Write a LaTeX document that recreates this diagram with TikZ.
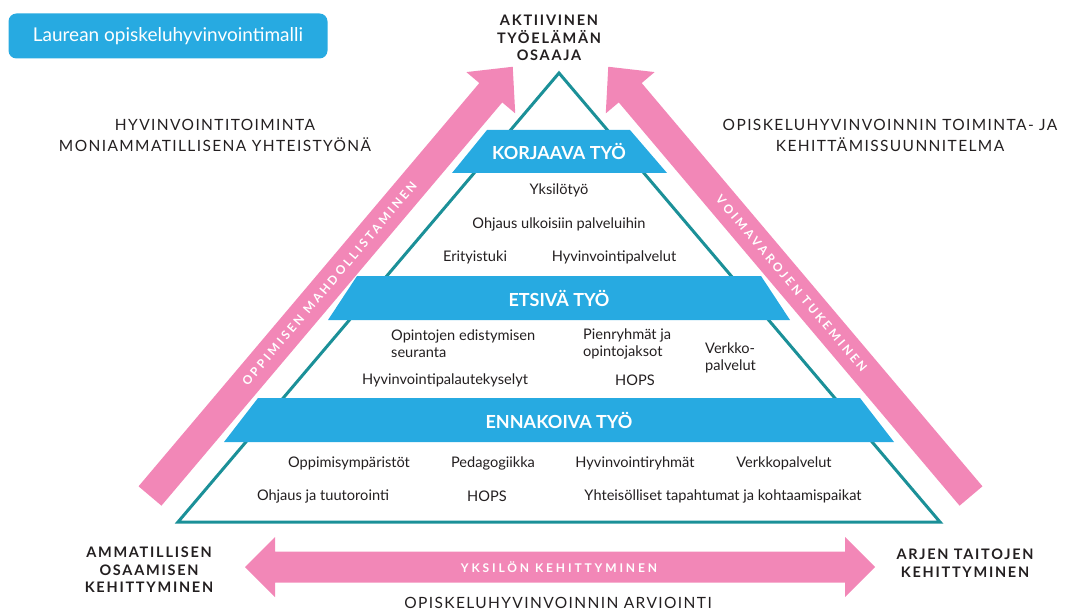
\documentclass[tikz,border=0pt]{standalone}
\usepackage{fontspec}
\setmainfont{Lato}
\newfontfamily\spacedfont[LetterSpace=24]{Lato}
\newfontfamily\capsfont[LetterSpace=9]{Lato}
\newfontfamily\boldcapsfont[LetterSpace=12]{Lato}
\definecolor{lcyan}{HTML}{27AAE1}
\definecolor{lpink}{HTML}{F287B7}
\definecolor{lteal}{HTML}{1B9098}
\definecolor{ink}{HTML}{231F20}
\begin{document}
\begin{tikzpicture}
    [x=1pt,y=-1pt,
    item/.style={inner sep=0pt, text=ink, font=\fontsize{14.6}{17}\selectfont},
    lefttext/.style={item, align=left, anchor=west},
    heading/.style={inner sep=0pt, text=ink, align=center, font=\capsfont\fontsize{15.5}{21}\selectfont},
    corner/.style={inner sep=0pt, text=ink, align=center, font=\boldcapsfont\bfseries\fontsize{14.5}{17.5}\selectfont},
    band/.style={fill=lcyan},
    bandtext/.style={inner sep=0pt, text=white, font=\bfseries\fontsize{18}{20}\selectfont},
    arrowtext/.style={inner sep=0pt, text=white, font=\spacedfont\bfseries\fontsize{12}{14}\selectfont}]
  \useasboundingbox (0,0) rectangle (1067,612);
  \node[fill=lcyan, rounded corners=8pt, minimum width=319pt, minimum height=45pt,
    text=white, font=\fontsize{19}{22}\selectfont] (title) at (168,36) {Laurean opiskeluhyvinvointimalli};
  % nuolet
  \begin{scope}[shift={(150,496)},rotate=49.8]
    \fill[lpink] (0,-15) -- (528,-15) -- (528,-32) -- (562,0) -- (528,32) -- (528,15) -- (0,15) -- cycle;
    \node[arrowtext,rotate=49.8] (enabling) at (278,0) {OPPIMISEN MAHDOLLISTAMINEN};
  \end{scope}
  \begin{scope}[shift={(971,496)},rotate=130.2]
    \fill[lpink] (0,-15) -- (528,-15) -- (528,-32) -- (562,0) -- (528,32) -- (528,15) -- (0,15) -- cycle;
    \node[arrowtext,rotate=-49.8] (support) at (278,0) {VOIMAVAROJEN TUKEMINEN};
  \end{scope}
  \fill[lpink] (245,567) -- (275,537) -- (275,551.5) -- (845,551.5) -- (845,537) -- (875,567)
    -- (845,597) -- (845,582.5) -- (275,582.5) -- (275,597) -- cycle;
  \node[arrowtext] (growth) at (559,567) {YKSILÖN KEHITTYMINEN};
  % pyramidi
  \draw[lteal, line width=3pt, line join=miter] (559,73) -- (940,522) -- (178,522) -- cycle;
  \fill[band] (487,130) -- (630,130) -- (667,173) -- (452,173) -- cycle;
  \fill[band] (357,276) -- (761,276) -- (790,320) -- (328,320) -- cycle;
  \fill[band] (258,398) -- (860,398) -- (894,442) -- (224,442) -- cycle;
  \node[bandtext] (korjaava) at (559,151) {KORJAAVA TYÖ};
  \node[bandtext] (etsiva) at (559,298) {ETSIVÄ TYÖ};
  \node[bandtext] (ennakoiva) at (559,420) {ENNAKOIVA TYÖ};
  % korjaava
  \node[item] (yksilo) at (559,190) {Yksilötyö};
  \node[item] (ohjausulk) at (559,224) {Ohjaus ulkoisiin palveluihin};
  \node[item] (erityis) at (475,257) {Erityistuki};
  \node[item] (hyvpalv) at (614,257) {Hyvinvointipalvelut};
  % etsiva
  \node[lefttext] (edistys) at (391,344) {Opintojen edistymisen\\seuranta};
  \node[lefttext] (pienryhma) at (583,344) {Pienryhmät ja\\opintojaksot};
  \node[lefttext] (verkko) at (705,358) {Verkko-\\palvelut};
  \node[item] (kysely) at (445,380) {Hyvinvointipalautekyselyt};
  \node[item] (hops1) at (635,380) {HOPS};
  % ennakoiva
  \node[item] (ymparisto) at (349,463) {Oppimisympäristöt};
  \node[item] (pedagogiikka) at (493,463) {Pedagogiikka};
  \node[item] (ryhmat) at (635,463) {Hyvinvointiryhmät};
  \node[item] (verkkopalv) at (784,463) {Verkkopalvelut};
  \node[item] (tuutorointi) at (323,496) {Ohjaus ja tuutorointi};
  \node[item] (hops2) at (487,496) {HOPS};
  \node[item] (yhteisollinen) at (723,496) {Yhteisölliset tapahtumat ja kohtaamispaikat};
  % reunatekstit
  \node[corner] (osaaja) at (549,38) {AKTIIVINEN\\TYÖELÄMÄN\\OSAAJA};
  \node[heading] (yhteistyo) at (215,135) {HYVINVOINTITOIMINTA\\MONIAMMATILLISENA YHTEISTYÖNÄ};
  \node[heading] (suunnitelma) at (890,135) {OPISKELUHYVINVOINNIN TOIMINTA- JA\\KEHITTÄMISSUUNNITELMA};
  \node[corner] (ammatillinen) at (149,570) {AMMATILLISEN\\OSAAMISEN\\KEHITTYMINEN};
  \node[corner] (arki) at (965,563) {ARJEN TAITOJEN\\KEHITTYMINEN};
  \node[heading] (arviointi) at (558,603) {OPISKELUHYVINVOINNIN ARVIOINTI};
\end{tikzpicture}
\end{document}
